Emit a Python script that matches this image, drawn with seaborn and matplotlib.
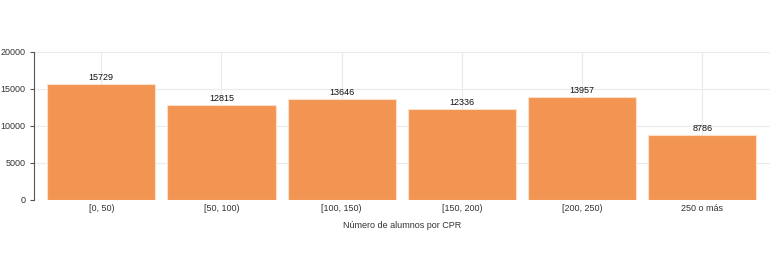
import matplotlib
matplotlib.use("Agg")
import matplotlib.pyplot as plt
import seaborn as sns
import pandas as pd

categories = ["[0, 50)", "[50, 100)", "[100, 150)", "[150, 200)", "[200, 250)", "250 o más"]
values = [15729, 12815, 13646, 12336, 13957, 8786]
yticks = [0, 5000, 10000, 15000, 20000]

sns.set_style("whitegrid")
plt.rcParams['font.family'] = ['Liberation Sans', 'DejaVu Sans']

df = pd.DataFrame({"cat": categories, "val": values})
fig = plt.figure(figsize=(7.8, 2.57), dpi=100)
ax = fig.add_axes([0.0436, 0.222, 0.943, 0.576])
sns.barplot(data=df, x="cat", y="val", ax=ax, color="#f29452", alpha=1.0,
            width=0.9, edgecolor="#fbe0cc", linewidth=0.8, saturation=1)
for i, v in enumerate(values):
    ax.text(i, v + 250, str(v), ha="center", va="bottom", fontsize=6.5, color="#111111")
ax.set_xlim(-0.56, 5.56)
ax.set_ylim(0, 20000)
ax.set_yticks(yticks)
ax.set_yticklabels([str(t) for t in yticks])
ax.tick_params(axis="both", labelsize=6.5, colors="#333333", length=0, pad=3)
ax.tick_params(axis="y", length=3, color="#555555", direction="out", left=True)
ax.grid(True, color="#ebebeb", linewidth=0.8)
ax.set_axisbelow(True)
for s in ["top", "right", "bottom"]:
    ax.spines[s].set_visible(False)
ax.spines["left"].set_color("#555555")
ax.spines["left"].set_linewidth(0.8)
ax.set_xlabel("Número de alumnos por CPR", fontsize=6.5, color="#333333", labelpad=6)
ax.set_ylabel("")
fig.savefig("out.png", dpi=100)
